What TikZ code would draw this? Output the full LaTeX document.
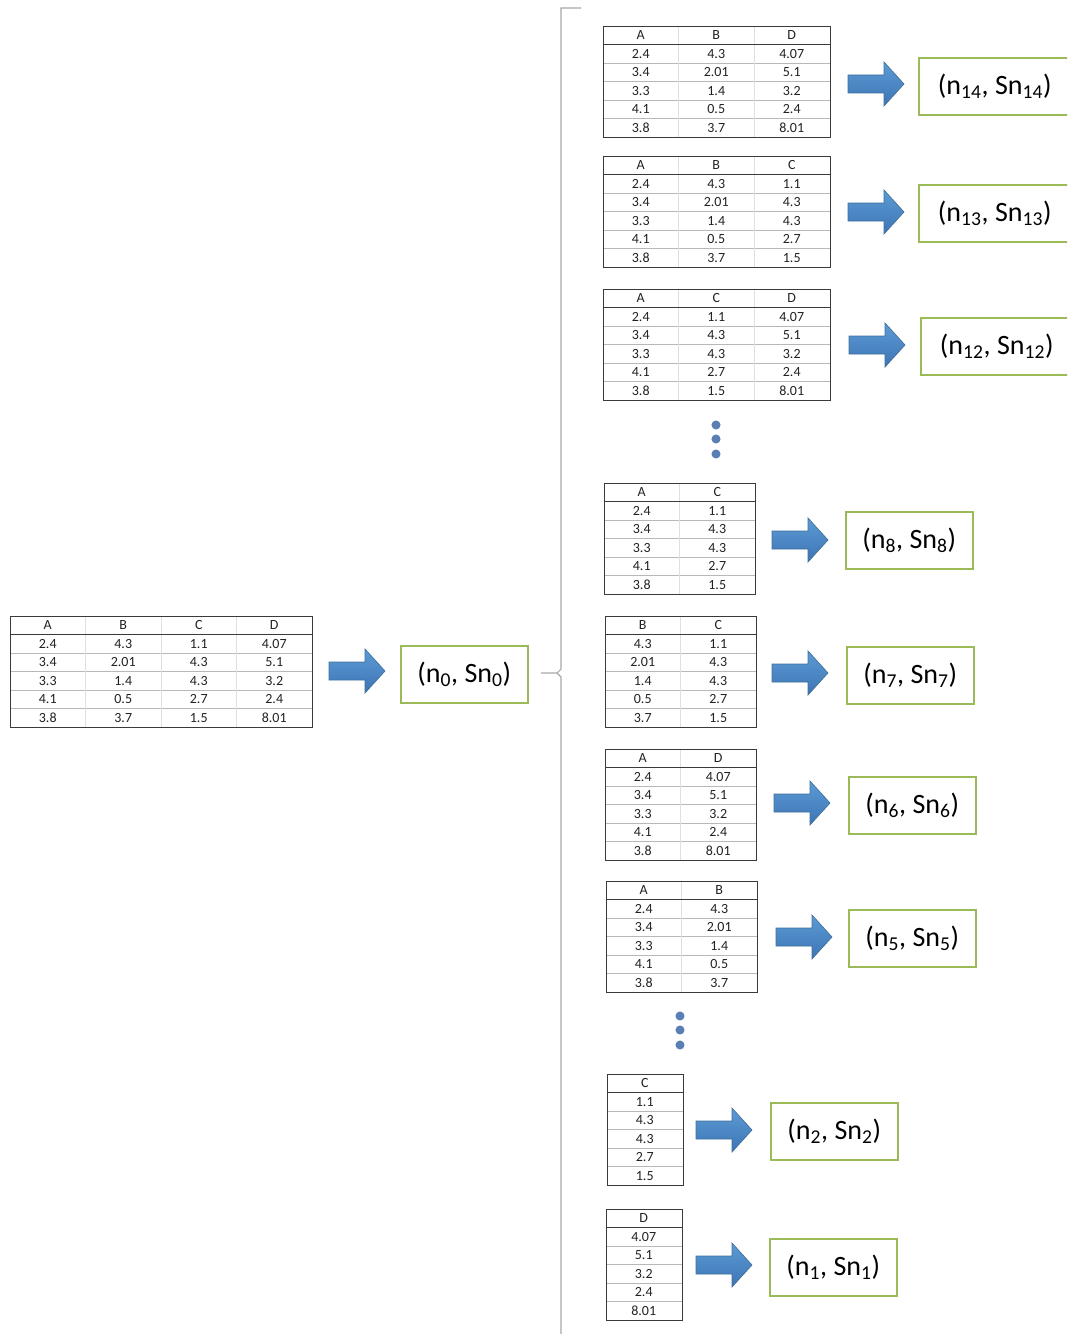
\documentclass[tikz,border=0pt]{standalone}
\usepackage{fontspec}
\setmainfont{Carlito}
\usetikzlibrary{calc}
\definecolor{rowgray}{HTML}{B8B8B8}
\definecolor{colgray}{HTML}{E0E0E0}
\definecolor{tblborder}{HTML}{3A3A3A}
\definecolor{lblgreen}{HTML}{9BBB59}
\definecolor{arrowtop}{HTML}{5B9BD5}
\definecolor{arrowbot}{HTML}{3E74B4}
\definecolor{arrowedge}{HTML}{41719C}
\definecolor{dotblue}{HTML}{5A7FB5}
\definecolor{bracegray}{HTML}{A8A8A8}
\definecolor{txt}{HTML}{222222}
\def\colA{2.4,3.4,3.3,4.1,3.8}
\def\colB{4.3,2.01,1.4,0.5,3.7}
\def\colC{1.1,4.3,4.3,2.7,1.5}
\def\colD{4.07,5.1,3.2,2.4,8.01}
\def\cw{75.5}
\def\rh{18.5}
\tikzset{
  rowline/.style={draw=rowgray, line width=0.5pt},
  colline/.style={draw=colgray, line width=0.5pt},
  hdrline/.style={draw=tblborder, line width=1pt},
  tblframe/.style={draw=tblborder, line width=0.8pt, inner sep=0pt, anchor=north west},
  cell/.style={inner sep=0pt, text=txt, font=\fontsize{10.5}{12}\selectfont},
  lbl/.style={draw=lblgreen, line width=1.2pt, inner sep=0pt, anchor=north west, text=black, font=\fontsize{21}{25}\selectfont},
  arrowstyle/.style={top color=arrowtop, bottom color=arrowbot, draw=arrowedge, line width=0.5pt},
  bracestyle/.style={draw=bracegray, line width=0.8pt},
  dotstyle/.style={fill=dotblue}
}
\newcommand\drawtable[4]{%
  \begin{scope}[shift={(#2,#3)}]
    \foreach \L [count=\i] in {#4} {\xdef\tblncol{\i}}
    \pgfmathsetmacro\tblw{\tblncol*\cw}
    \foreach \k in {2,...,5} \draw[rowline] (0,\k*\rh) -- (\tblw,\k*\rh);
    \foreach \L [count=\i] in {#4} {
      \ifnum\i<\tblncol\relax \draw[colline] (\i*\cw,0) -- (\i*\cw,6*\rh); \fi
    }
    \draw[hdrline] (0,\rh) -- (\tblw,\rh);
    \node[tblframe, minimum width={\tblw*0.75pt}, minimum height={111*0.75pt}] (#1) at (0,0) {};
    \foreach \L [count=\i from 0] in {#4} {
      \node[cell] (#1-\L) at ({(\i+0.5)*\cw},{0.5*\rh}) {\L};
      \edef\vals{\csname col\L\endcsname}
      \foreach \v [count=\j] in \vals {
        \node[cell] (#1-\L\j) at ({(\i+0.5)*\cw},{(\j+0.5)*\rh}) {\v};
      }
    }
  \end{scope}}
\newcommand\blockarrow[3]{%
  \coordinate (#1) at (#2,#3);
  \shadedraw[arrowstyle] ($(#1)+(0,-9)$) -- ++(36,0) -- ++(0,-13) -- ++(20,22)
    -- ++(-20,22) -- ++(0,-13) -- ++(-36,0) -- cycle;}
\newcommand\lbox[5]{% name x y width text
  \node[lbl, minimum width={#4*0.75pt}, minimum height={57*0.75pt}] (#1) at (#2,#3) {#5};}
\begin{document}
\begin{tikzpicture}[x=0.75pt, y=-0.75pt]
  \clip (0,0) rectangle (1067,1334);
  \fill[white] (0,0) rectangle (1067,1334);

  % brace
  \coordinate (brtop) at (581,8);
  \coordinate (brtip) at (541,673);
  \coordinate (brbot) at (561,1340);
  \draw[bracestyle] (brtop) -- (561,8) -- (561,669) -- (557,673) -- (brtip);
  \draw[bracestyle] (557,673) -- (561,677) -- (brbot);

  % tables
  \drawtable{t0}{10}{616}{A,B,C,D}
  \drawtable{t14}{603}{26}{A,B,D}
  \drawtable{t13}{603}{156}{A,B,C}
  \drawtable{t12}{603}{289}{A,C,D}
  \drawtable{t8}{604}{483}{A,C}
  \drawtable{t7}{605}{616}{B,C}
  \drawtable{t6}{605}{749}{A,D}
  \drawtable{t5}{606}{881}{A,B}
  \drawtable{t2}{607}{1074}{C}
  \drawtable{t1}{606}{1209}{D}

  % arrows
  \blockarrow{a0}{329}{671}
  \blockarrow{a14}{848}{84}
  \blockarrow{a13}{848}{212}
  \blockarrow{a12}{849}{345}
  \blockarrow{a8}{772}{540}
  \blockarrow{a7}{772}{673}
  \blockarrow{a6}{774}{803}
  \blockarrow{a5}{776}{937}
  \blockarrow{a2}{696}{1130}
  \blockarrow{a1}{696}{1265}

  % label boxes
  \lbox{b0}{400}{645}{127}{(n\textsubscript{0}, Sn\textsubscript{0})}
  \lbox{b14}{918}{57}{152}{(n\textsubscript{14}, Sn\textsubscript{14})}
  \lbox{b13}{918}{184}{152}{(n\textsubscript{13}, Sn\textsubscript{13})}
  \lbox{b12}{920}{317}{152}{(n\textsubscript{12}, Sn\textsubscript{12})}
  \lbox{b8}{845}{511}{127}{(n\textsubscript{8}, Sn\textsubscript{8})}
  \lbox{b7}{846}{646}{127}{(n\textsubscript{7}, Sn\textsubscript{7})}
  \lbox{b6}{848}{776}{127}{(n\textsubscript{6}, Sn\textsubscript{6})}
  \lbox{b5}{848}{909}{127}{(n\textsubscript{5}, Sn\textsubscript{5})}
  \lbox{b2}{770}{1102}{127}{(n\textsubscript{2}, Sn\textsubscript{2})}
  \lbox{b1}{769}{1238}{127}{(n\textsubscript{1}, Sn\textsubscript{1})}

  % ellipsis dots
  \foreach \yy [count=\n] in {425,439,454} \fill[dotstyle] (716,\yy) circle[radius=3.4pt];
  \foreach \yy [count=\n] in {1016,1030,1045} \fill[dotstyle] (680,\yy) circle[radius=3.4pt];
\end{tikzpicture}
\end{document}
